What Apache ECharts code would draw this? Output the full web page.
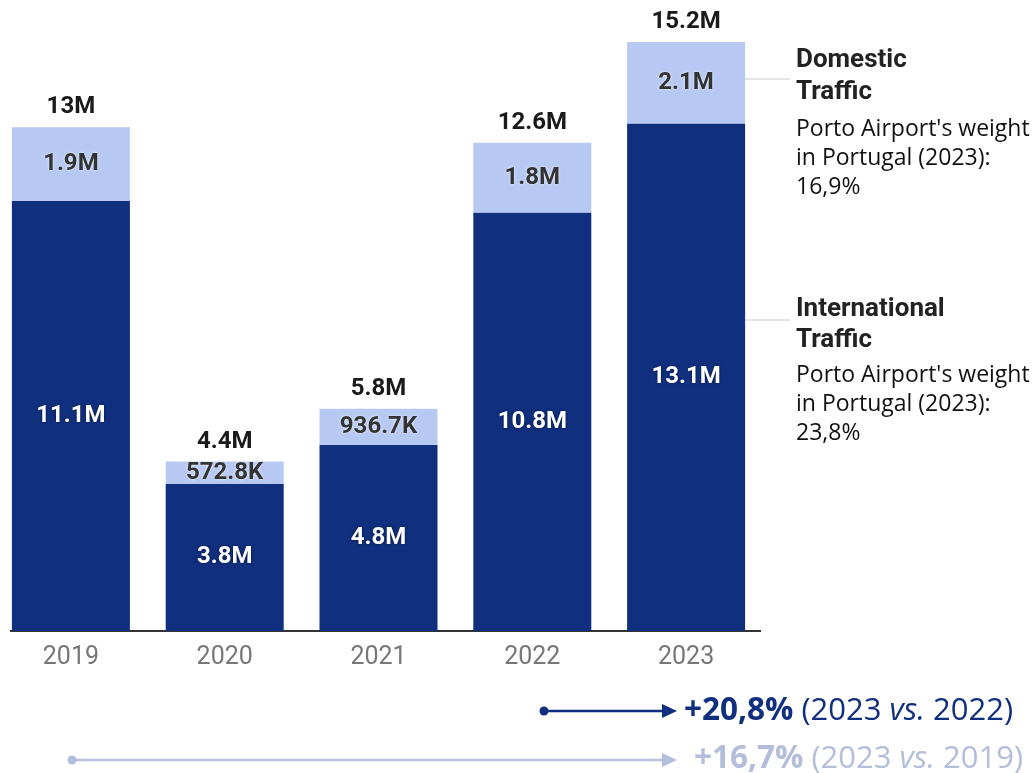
<!DOCTYPE html>
<html><head><meta charset="utf-8">
<script src="https://cdn.jsdelivr.net/npm/echarts@6/dist/echarts.min.js"></script>
<style>html,body{margin:0;padding:0;background:#fff;overflow:hidden;width:1034px;height:773px}
#c{position:absolute;left:-6px;top:0;width:1040px;height:773px}</style>
</head><body><div id="c"></div>
<script>
const years = ['2019','2020','2021','2022','2023'];
const international = [11.1, 3.8, 4.8, 10.8, 13.1];
const domestic = [1.9, 0.5728, 0.9367, 1.8, 2.1];
const intlLabels = ['11.1M','3.8M','4.8M','10.8M','13.1M'];
const domLabels = ['1.9M','572.8K','936.7K','1.8M','2.1M'];
const totalLabels = ['13M','4.4M','5.8M','12.6M','15.2M'];
const zeros = [0,0,0,0,0];

const DARK = '#102f7e', LIGHT = '#b7c9f3', PALE = '#b4bedb';
const OX = 6; // offset of chart div
const chart = echarts.init(document.getElementById('c'));
chart.setOption({
  animation:false,
  grid:{left:0,right:271,top:11,bottom:142},
  xAxis:{type:'category',data:years,
    axisLine:{show:false},axisTick:{show:false},
    axisLabel:{color:'#777',fontFamily:'Roboto',fontSize:25,margin:14}},
  yAxis:{type:'value',min:0,max:16,show:false,splitLine:{show:false}},
  series:[
    {name:'International',type:'bar',stack:'t',data:international,barWidth:118,
     itemStyle:{color:DARK},
     label:{show:true,position:'inside',formatter:p=>intlLabels[p.dataIndex],
       color:'#fff',fontFamily:'Roboto',fontWeight:'bold',fontSize:24,
       textShadowColor:'rgba(0,0,0,0.5)',textShadowBlur:3}},
    {name:'Domestic',type:'bar',stack:'t',data:domestic,barWidth:118,
     itemStyle:{color:LIGHT},
     label:{show:true,position:'inside',formatter:p=>domLabels[p.dataIndex],
       color:'#333',fontFamily:'Roboto',fontWeight:'bold',fontSize:24,
       textShadowColor:'rgba(255,255,255,0.8)',textShadowBlur:3}},
    {name:'Total',type:'bar',stack:'t',data:zeros,barWidth:118,
     itemStyle:{color:'transparent'},
     label:{show:true,position:'top',distance:8,formatter:p=>totalLabels[p.dataIndex],
       color:'#1a1a1a',fontFamily:'Roboto',fontWeight:'bold',fontSize:24}}
  ],
  graphic:[
    {type:'line',shape:{x1:10+OX,y1:631,x2:761+OX,y2:631},style:{stroke:'#333',lineWidth:2}},
    {type:'line',shape:{x1:738+OX,y1:79,x2:790+OX,y2:79},style:{stroke:'#ccc',lineWidth:1}},
    {type:'line',shape:{x1:738+OX,y1:320,x2:790+OX,y2:320},style:{stroke:'#ccc',lineWidth:1}},
    {type:'text',x:796+OX,y:44,style:{text:'Domestic\nTraffic',font:'bold 26px Roboto',fill:'#222',lineHeight:32}},
    {type:'text',x:796+OX,y:115,style:{text:"Porto Airport's weight\nin Portugal (2023):\n16,9%",font:'23px "Open Sans"',fill:'#111',lineHeight:29}},
    {type:'text',x:796+OX,y:294,style:{text:'International\nTraffic',font:'bold 26px Roboto',fill:'#222',lineHeight:31}},
    {type:'text',x:796+OX,y:361,style:{text:"Porto Airport's weight\nin Portugal (2023):\n23,8%",font:'23px "Open Sans"',fill:'#111',lineHeight:29}},
    {type:'circle',shape:{cx:544+OX,cy:711,r:4.5},style:{fill:DARK}},
    {type:'line',shape:{x1:544+OX,y1:711,x2:665+OX,y2:711},style:{stroke:DARK,lineWidth:2.5}},
    {type:'polygon',shape:{points:[[662+OX,704],[677+OX,711],[662+OX,718]]},style:{fill:DARK}},
    {type:'text',x:684+OX,y:711,style:{verticalAlign:'middle',
      text:'{b|+20,8%}{r| (2023 }{i|vs.}{r| 2022)}',
      rich:{b:{fontSize:31.5,fontWeight:'bold',fontFamily:'Open Sans',fill:DARK},
            r:{fontSize:31,fontFamily:'Open Sans',fill:DARK},
            i:{fontSize:31,fontFamily:'Open Sans',fontStyle:'italic',fill:DARK}}}},
    {type:'circle',shape:{cx:72+OX,cy:760,r:4.5},style:{fill:PALE}},
    {type:'line',shape:{x1:72+OX,y1:760,x2:665+OX,y2:760},style:{stroke:PALE,lineWidth:2.5}},
    {type:'polygon',shape:{points:[[662+OX,753],[677+OX,760],[662+OX,767]]},style:{fill:PALE}},
    {type:'text',x:694+OX,y:759,style:{verticalAlign:'middle',
      text:'{b|+16,7%}{r| (2023 }{i|vs.}{r| 2019)}',
      rich:{b:{fontSize:31.5,fontWeight:'bold',fontFamily:'Open Sans',fill:PALE},
            r:{fontSize:31,fontFamily:'Open Sans',fill:PALE},
            i:{fontSize:31,fontFamily:'Open Sans',fontStyle:'italic',fill:PALE}}}}
  ]
});
</script></body></html>
